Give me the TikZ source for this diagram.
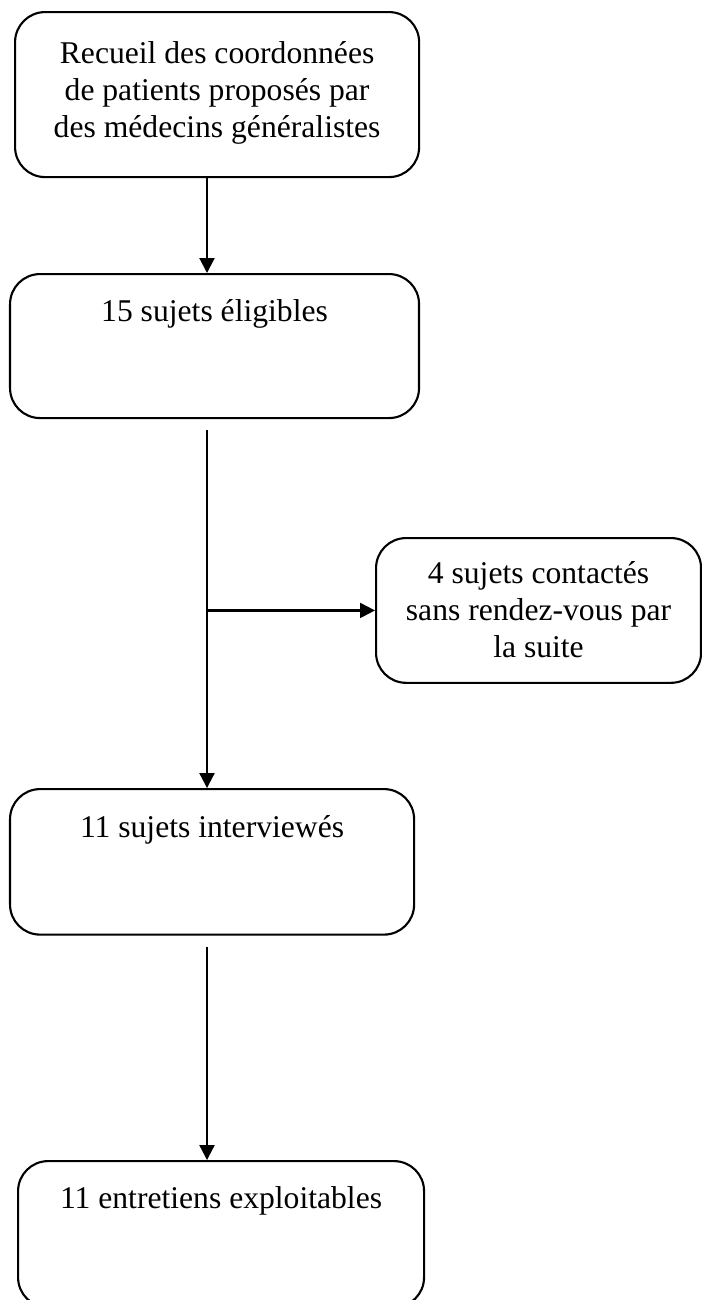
\documentclass[tikz,border=0pt]{standalone}
\usepackage{fontspec}
\setmainfont{Liberation Serif}
\usetikzlibrary{arrows.meta,positioning}

\begin{document}
\begin{tikzpicture}[every node/.style={font=\fontsize{12}{14}\selectfont,align=flush center},
    stage/.style={draw,thick,rounded corners=0.4cm,inner sep=0pt,anchor=north west},
    flow/.style={-{Triangle[length=0.2cm,width=0.2cm]},thick}]
    \useasboundingbox (0,0) rectangle (9.347,-17.333);
    \coordinate (spine) at (2.76,0);
    \node[stage,text width=5.387cm,text height=0.69cm,text depth=1.51cm] (recueil) at (0.187,-0.147){Recueil des coordonnées\\de patients proposés par\\des médecins généralistes};
    \node[stage,text width=5.453cm,text height=0.63cm,text depth=1.29cm] (eligibles) at (0.12,-3.64){15 sujets éligibles};
    \node[stage,text width=4.333cm,text height=0.61cm,text depth=1.32cm] (contactes) at (5.0,-7.16){4 sujets contactés\\sans rendez-vous par\\la suite};
    \node[stage,text width=5.387cm,text height=0.65cm,text depth=1.29cm] (interviewes) at (0.12,-10.507){11 sujets interviewés};
    \node[stage,text width=5.413cm,text height=0.63cm,text depth=1.32cm] (exploitables) at (0.227,-15.467){11 entretiens exploitables};
    % free ends of the spine below the boxes
    \coordinate (c2) at ([yshift=-0.147cm]eligibles.south -| spine);
    \coordinate (c4) at ([yshift=-0.147cm]interviewes.south -| spine);
    \draw[flow] (recueil.south -| spine)--(eligibles.north -| spine);
    \draw[flow] (c2)--(interviewes.north -| spine);
    \draw[flow] (spine |- contactes.west)--(contactes.west);
    \draw[flow] (c4)--(exploitables.north -| spine);
  \end{tikzpicture}
\end{document}
